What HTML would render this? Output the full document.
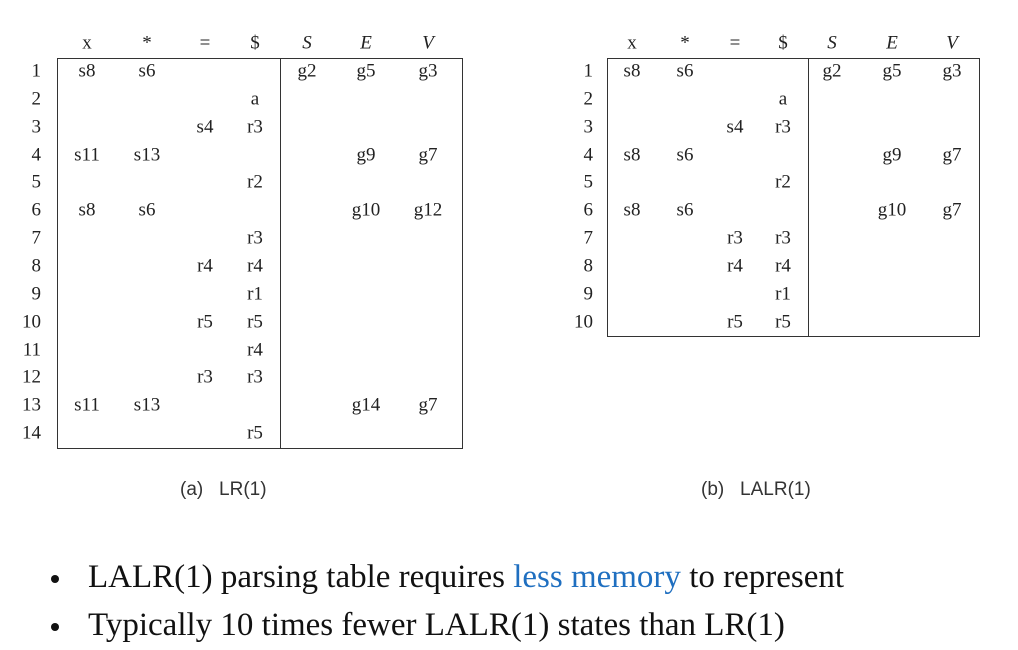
<!DOCTYPE html>
<html><head><meta charset="utf-8">
<style>
html,body{margin:0;padding:0;background:#fff;}
#root{position:relative;width:1018px;height:650px;overflow:hidden;font-family:"Liberation Serif",serif;color:#222;}
.t{position:absolute;font-size:19px;transform:translate(-50%,-50%);white-space:nowrap;line-height:1;}
.n{position:absolute;font-size:19px;transform:translate(-100%,-50%);white-space:nowrap;line-height:1;}
.box{position:absolute;border:1.3px solid #333;box-sizing:border-box;}
.sep{position:absolute;width:1.3px;background:#333;}
.cap{position:absolute;font-family:"Liberation Sans",sans-serif;font-size:19px;color:#333;white-space:nowrap;}
.bul{position:absolute;font-size:33px;color:#111;white-space:nowrap;line-height:1;}
.dot{position:absolute;width:8px;height:8px;border-radius:50%;background:#111;}
</style></head><body>
<div id="root">
<div class="cap" style="left:180px;top:479px;">(a)&nbsp;&nbsp;&nbsp;LR(1)</div>
<div class="cap" style="left:701px;top:479px;">(b)&nbsp;&nbsp;&nbsp;LALR(1)</div>
<div class="dot" style="left:51px;top:575px;"></div>
<div class="bul" style="left:88px;top:561px;">LALR(1) parsing table requires <span style="color:#1f6fc0">less memory</span> to represent</div>
<div class="dot" style="left:51px;top:623px;"></div>
<div class="bul" style="left:88px;top:609px;">Typically 10 times fewer LALR(1) states than LR(1)</div>
</div>
<script>
const headers=['x','*','=','$','S','E','V'];
const lrRows=[
['s8','s6','','','g2','g5','g3'],
['','','','a','','',''],
['','','s4','r3','','',''],
['s11','s13','','','','g9','g7'],
['','','','r2','','',''],
['s8','s6','','','','g10','g12'],
['','','','r3','','',''],
['','','r4','r4','','',''],
['','','','r1','','',''],
['','','r5','r5','','',''],
['','','','r4','','',''],
['','','r3','r3','','',''],
['s11','s13','','','','g14','g7'],
['','','','r5','','','']];
const lalrRows=[
['s8','s6','','','g2','g5','g3'],
['','','','a','','',''],
['','','s4','r3','','',''],
['s8','s6','','','','g9','g7'],
['','','','r2','','',''],
['s8','s6','','','','g10','g7'],
['','','r3','r3','','',''],
['','','r4','r4','','',''],
['','','','r1','','',''],
['','','r5','r5','','','']];
const root=document.getElementById('root');
function mk(cls,name,style,text){
  const d=document.createElement('div');d.className=cls;
  
  
  Object.assign(d.style,style);if(text!==undefined)d.textContent=text;root.appendChild(d);return d;
}
function table(id,rows,cols,numX,box,sepX){
  const top=71,step=27.85;
  headers.forEach((h,i)=>{const e=mk('t',id+'-header-'+i,{left:cols[i]+'px',top:'43px'},h);if(i>=4)e.style.fontStyle='italic';});
  rows.forEach((r,ri)=>{
    const y=top+ri*step;
    mk('n',id+'-row-number',{left:numX+'px',top:y+'px'},String(ri+1));
    r.forEach((c,ci)=>{if(c)mk('t',id+'-cell',{left:cols[ci]+'px',top:y+'px'},c);});
  });
  mk('box',id+'-table-border',{left:box[0]+'px',top:box[1]+'px',width:(box[2]-box[0])+'px',height:(box[3]-box[1])+'px'});
  mk('sep',id+'-action-goto-divider',{left:sepX+'px',top:box[1]+'px',height:(box[3]-box[1])+'px'});
}
table('lr1',lrRows,[87,147,205,255,307,366,428],41,[57,58,463,449],280);
table('lalr1',lalrRows,[632,685,735,783,832,892,952],593,[607,58,980,337],808);
</script>
</body></html>
